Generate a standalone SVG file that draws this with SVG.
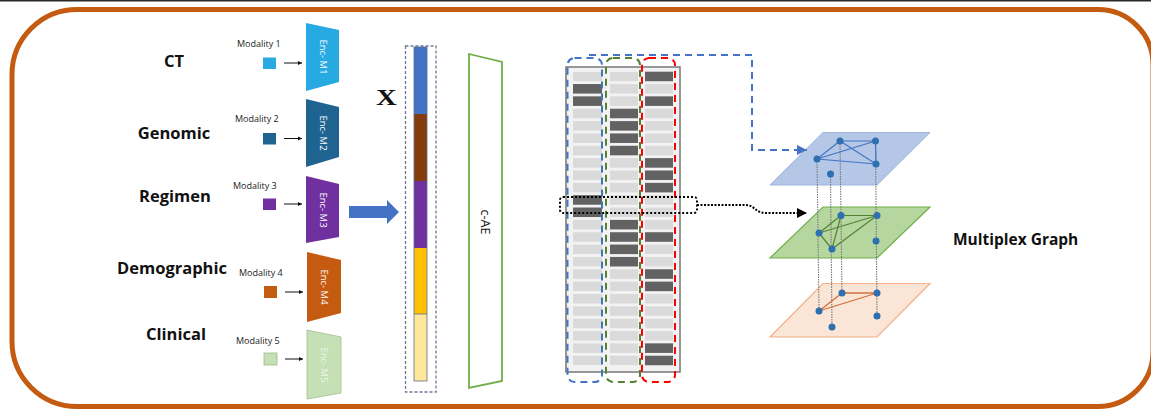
<svg xmlns="http://www.w3.org/2000/svg" width="1151" height="409" viewBox="0 0 1151 409">
<defs>
<style>
.lbl{font-family:"Open Sans","Liberation Sans",sans-serif;font-weight:700;font-size:16.5px;fill:#111;text-anchor:middle}
.mod{font-family:"Open Sans","Liberation Sans",sans-serif;font-size:9px;fill:#222}
.enc{font-family:"Open Sans","Liberation Sans",sans-serif;font-size:9.5px;fill:#fff;text-anchor:middle}
.sa{stroke:#111;stroke-width:1;fill:none}
.lc{fill:url(#rows)}
.dk{fill:#626262}
.node{fill:#2e6fb0}
.vl{stroke:#7a7a7a;stroke-width:1.1;stroke-dasharray:1.5 1;fill:none}
</style>
<pattern id="rows" patternUnits="userSpaceOnUse" x="0" y="71.7" width="50" height="12.35">
<rect x="0" y="0" width="50" height="9.5" fill="#dadada"/>
</pattern>
<marker id="ah" viewBox="0 0 10 10" refX="10" refY="5" markerWidth="4.5" markerHeight="4.5" markerUnits="userSpaceOnUse" orient="auto"><path d="M0,0 L10,5 L0,10 z" fill="#111"/></marker>
<marker id="ahB" viewBox="0 0 10 10" refX="10" refY="5" markerWidth="10" markerHeight="10" markerUnits="userSpaceOnUse" orient="auto"><path d="M0,0 L10,5 L0,10 z" fill="#4472c4"/></marker>
<marker id="ahK" viewBox="0 0 10 10" refX="10" refY="5" markerWidth="10" markerHeight="10" markerUnits="userSpaceOnUse" orient="auto"><path d="M0,0 L10,5 L0,10 z" fill="#000"/></marker>
</defs>
<rect x="0" y="0" width="1151" height="409" fill="#fff"/>
<rect x="0" y="0" width="1151" height="1.5" fill="#2a2a2a"/>
<path d="M77 9.5 H1098 A55 55 0 0 1 1153 64.5 V351.5 A55 55 0 0 1 1098 406.5 H77 A65 65 0 0 1 12 341.5 V74.5 A65 65 0 0 1 77 9.5 Z" fill="none" stroke="#c55a11" stroke-width="5"/>

<g id="labels">
<text class="lbl" x="174" y="67">CT</text>
<text class="lbl" x="174" y="139">Genomic</text>
<text class="lbl" x="175" y="202">Regimen</text>
<text class="lbl" x="172" y="274">Demographic</text>
<text class="lbl" x="176" y="340">Clinical</text>
</g>

<g id="modality1">
<text class="mod" x="237" y="47">Modality 1</text>
<rect x="263" y="57.5" width="13" height="11.5" fill="#29abe2"/>
</g>
<g id="modality2">
<text class="mod" x="235" y="122">Modality 2</text>
<rect x="263" y="133" width="13" height="11.5" fill="#1f6391"/>
</g>
<g id="modality3">
<text class="mod" x="233" y="189">Modality 3</text>
<rect x="263" y="198.5" width="13" height="11.5" fill="#7030a0"/>
</g>
<g id="modality4">
<text class="mod" x="239" y="276">Modality 4</text>
<rect x="264" y="286" width="13" height="12" fill="#c55a11"/>
</g>
<g id="modality5">
<text class="mod" x="236" y="344">Modality 5</text>
<rect x="264" y="353" width="13" height="12" fill="#c5e0b4" stroke="#9fb98f" stroke-width="0.8"/>
</g>

<g id="enc1"><path d="M306 23 L339 30 L339 82 L306 91 Z" fill="#27a9e1"/><text class="enc" transform="translate(319.5 57) rotate(90)">Enc- M1</text></g>
<g id="enc2"><path d="M306 99 L339 107 L339 157 L306 167 Z" fill="#1f6391"/><text class="enc" transform="translate(319.5 133) rotate(90)">Enc- M2</text></g>
<g id="enc3"><path d="M306 176 L339 184 L339 237 L306 243 Z" fill="#7030a0"/><text class="enc" transform="translate(319.5 210) rotate(90)">Enc- M3</text></g>
<g id="enc4"><path d="M307 252 L341 260 L341 313 L307 322 Z" fill="#c55a11"/><text class="enc" transform="translate(321 287) rotate(90)">Enc- M4</text></g>
<g id="enc5"><path d="M307 330 L341 337 L341 393 L307 399 Z" fill="#c5e0b4" stroke="#a7bd98" stroke-width="0.8"/><text class="enc" style="fill:#eef6ea" transform="translate(321 365) rotate(90)">Enc- M5</text></g>

<g id="vectorX">
<text x="376" y="105" font-family="'Liberation Serif','DejaVu Serif',serif" font-weight="700" font-size="24" fill="#111" transform="translate(376 105) scale(1.2 1) translate(-376 -105)">X</text>
<rect x="405.5" y="46" width="30.5" height="346" fill="none" stroke="#6b7a94" stroke-width="1.3" stroke-dasharray="3 2"/>
<rect x="414" y="47" width="13" height="67" fill="#4472c4"/>
<rect x="414" y="114" width="13" height="67" fill="#843c0c"/>
<rect x="414" y="181" width="13" height="67" fill="#7030a0"/>
<rect x="414" y="248" width="13" height="66" fill="#ffc000"/>
<rect x="414" y="314" width="13" height="67" fill="#ffe699"/>
<rect x="414" y="47" width="13" height="334" fill="none" stroke="#5b6f95" stroke-width="0.8"/>
<line x1="414" y1="314" x2="427" y2="314" stroke="#5b6f95" stroke-width="0.8"/>
</g>

<g id="cae">
<path d="M469 54 L502 62 L502 381 L469 388 Z" fill="#fff" stroke="#70ad47" stroke-width="1.8"/>
<text font-family="'Open Sans','Liberation Sans',sans-serif" font-size="12.5" font-weight="500" fill="#111" text-anchor="middle" transform="translate(480.5 222) rotate(90)">c-AE</text>
</g>

<g id="matrix">
<rect x="566" y="67" width="114" height="305" fill="#f2f2f2" stroke="#7f7f7f" stroke-width="1.6"/>
<rect class="lc" x="573" y="71.7" width="29" height="293.6"/>
<rect class="lc" x="610" y="71.7" width="28" height="293.6"/>
<rect class="lc" x="645" y="71.7" width="28" height="293.6"/>
<g id="dark">
<rect class="dk" x="645" y="71.7" width="28" height="9.5"/>
<rect class="dk" x="573" y="84.05" width="29" height="9.5"/>
<rect class="dk" x="573" y="96.4" width="29" height="9.5"/>
<rect class="dk" x="645" y="96.4" width="28" height="9.5"/>
<rect class="dk" x="610" y="108.75" width="28" height="9.5"/>
<rect class="dk" x="610" y="121.1" width="28" height="9.5"/>
<rect class="dk" x="610" y="133.45" width="28" height="9.5"/>
<rect class="dk" x="610" y="145.8" width="28" height="9.5"/>
<rect class="dk" x="645" y="158.15" width="28" height="9.5"/>
<rect class="dk" x="645" y="170.5" width="28" height="9.5"/>
<rect class="dk" x="645" y="182.85" width="28" height="9.5"/>
<rect class="dk" x="573" y="195.2" width="29" height="9.5"/>
<rect class="dk" x="573" y="207.55" width="29" height="9.5"/>
<rect class="dk" x="610" y="219.9" width="28" height="9.5"/>
<rect class="dk" x="610" y="232.25" width="28" height="9.5"/>
<rect class="dk" x="645" y="232.25" width="28" height="9.5"/>
<rect class="dk" x="610" y="244.6" width="28" height="9.5"/>
<rect class="dk" x="610" y="256.95" width="28" height="9.5"/>
<rect class="dk" x="645" y="269.3" width="28" height="9.5"/>
<rect class="dk" x="645" y="281.65" width="28" height="9.5"/>
<rect class="dk" x="645" y="343.4" width="28" height="9.5"/>
<rect class="dk" x="645" y="355.75" width="28" height="9.5"/>
</g>
<rect x="567.5" y="58" width="34.5" height="324" rx="7" fill="none" stroke="#4472c4" stroke-width="2" stroke-dasharray="7 5"/>
<rect x="606" y="58" width="34" height="324" rx="7" fill="none" stroke="#548235" stroke-width="2" stroke-dasharray="7 5"/>
<rect x="642" y="58" width="33" height="324" rx="7" fill="none" stroke="#ff0000" stroke-width="2" stroke-dasharray="7 5"/>
<rect x="560" y="197" width="137" height="16" rx="3" fill="none" stroke="#000" stroke-width="2" stroke-dasharray="2 2"/>
</g>

<g id="plane-blue">
<path d="M823 132.5 L930 132.5 L877 185 L770 185 Z" fill="#b4c7e7" stroke="#9db4de" stroke-width="1"/>
</g>
<g id="plane-green">
<path d="M823 207 L930 207 L877 258 L770 258 Z" fill="#b5d69e" stroke="#70ad47" stroke-width="1.2"/>
</g>
<g id="plane-orange">
<path d="M823 283.5 L930 283.5 L877 337 L770 337 Z" fill="#fbe5d6" stroke="#f4b183" stroke-width="1.2"/>
</g>

<g id="connectors">
<line class="sa" x1="284" y1="63" x2="302" y2="63" marker-end="url(#ah)"/>
<line class="sa" x1="284" y1="138.5" x2="302" y2="138.5" marker-end="url(#ah)"/>
<line class="sa" x1="284" y1="204" x2="302" y2="204" marker-end="url(#ah)"/>
<line class="sa" x1="285" y1="292" x2="303" y2="292" marker-end="url(#ah)"/>
<line class="sa" x1="285" y1="359" x2="303" y2="359" marker-end="url(#ah)"/>
<path d="M349 206 H387 V200 L399 212 L387 224 V218 H349 Z" fill="#4472c4"/>
<path d="M589 55 H752 V150 H807" fill="none" stroke="#4472c4" stroke-width="2" stroke-dasharray="7 5" marker-end="url(#ahB)"/>
<path d="M697 205 H745 C755 205 755 213 766 213 H807" fill="none" stroke="#000" stroke-width="2" stroke-dasharray="2 1.5" marker-end="url(#ahK)"/>
</g>

<g id="graph">
<line class="vl" x1="817" y1="159" x2="819" y2="311"/>
<line class="vl" x1="830.5" y1="174" x2="832" y2="327"/>
<line class="vl" x1="840" y1="141" x2="842" y2="293"/>
<line class="vl" x1="875.5" y1="141" x2="877" y2="316"/>
<g stroke="#4472c4" stroke-width="1.2">
<line x1="817" y1="159" x2="840" y2="141"/>
<line x1="840" y1="141" x2="875.5" y2="141"/>
<line x1="875.5" y1="141" x2="876" y2="164"/>
<line x1="817" y1="159" x2="876" y2="164"/>
<line x1="840" y1="141" x2="876" y2="164"/>
<line x1="817" y1="159" x2="875.5" y2="141"/>
</g>
<g stroke="#548235" stroke-width="1.2">
<line x1="841" y1="215.5" x2="877" y2="215.5"/>
<line x1="819" y1="233" x2="841" y2="215.5"/>
<line x1="819" y1="233" x2="877" y2="215.5"/>
<line x1="841" y1="215.5" x2="832" y2="249"/>
<line x1="819" y1="233" x2="832" y2="249"/>
<line x1="832" y1="249" x2="877" y2="215.5"/>
</g>
<g stroke="#d0703a" stroke-width="1.3">
<line x1="842" y1="293" x2="877" y2="293"/>
<line x1="819" y1="311" x2="842" y2="293"/>
<line x1="819" y1="311" x2="877" y2="293"/>
</g>
<circle class="node" cx="840" cy="141" r="3.5"/>
<circle class="node" cx="875.5" cy="141" r="3.5"/>
<circle class="node" cx="817" cy="159" r="3.5"/>
<circle class="node" cx="876" cy="164" r="3.5"/>
<circle class="node" cx="830.5" cy="174" r="3.5"/>
<circle class="node" cx="841" cy="215.5" r="3.5"/>
<circle class="node" cx="877" cy="215.5" r="3.5"/>
<circle class="node" cx="819" cy="233" r="3.5"/>
<circle class="node" cx="832" cy="249" r="3.5"/>
<circle class="node" cx="876" cy="241" r="3.5"/>
<circle class="node" cx="842" cy="293" r="3.5"/>
<circle class="node" cx="877" cy="293" r="3.5"/>
<circle class="node" cx="819" cy="311" r="3.5"/>
<circle class="node" cx="832" cy="327" r="3.5"/>
<circle class="node" cx="877" cy="316" r="3.5"/>
</g>

<text x="953" y="245" font-family="'Open Sans','Liberation Sans',sans-serif" font-weight="700" font-size="15.5" fill="#111">Multiplex Graph</text>
</svg>
